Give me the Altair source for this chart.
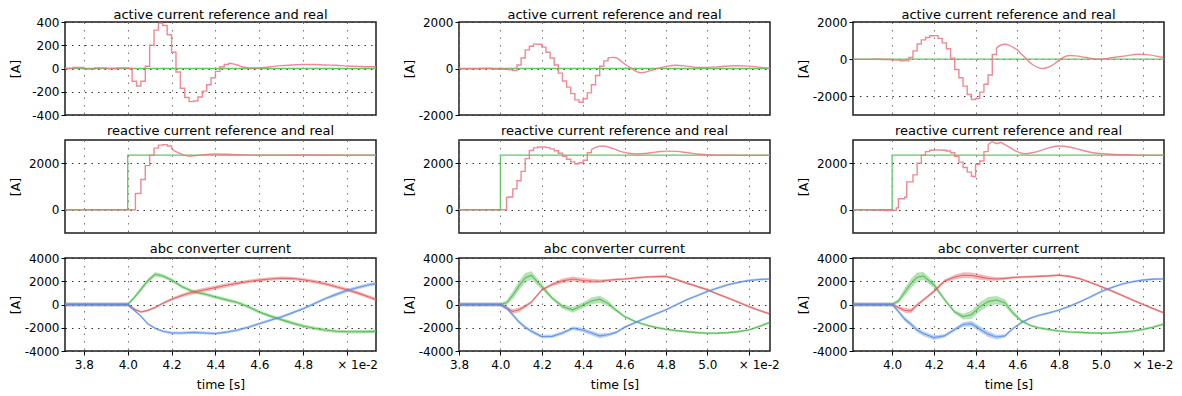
import altair as alt
import pandas as pd

FONT = "DejaVu Sans"
W, H = 311, 93

# ---------------- layout / axis content ----------------
X_DOMAINS = [[3.714, 5.132], [3.8, 5.303], [3.8125, 5.303]]
X_TICKS = [
    [3.8, 4.0, 4.2, 4.4, 4.6, 4.8, 5.0],
    [3.8, 4.0, 4.2, 4.4, 4.6, 4.8, 5.0, 5.2],
    [4.0, 4.2, 4.4, 4.6, 4.8, 5.0, 5.2],
]
X_MULT = [5.0, 5.2, 5.2]

TITLE_ACT = "active current reference and real"
TITLE_REACT = "reactive current reference and real"
TITLE_ABC = "abc converter current"
# title offsets per row (rows 1 and 3 have a tick label at the top edge that lifts the title)
TITLE_OFFSET = {"act": -6, "react": 2, "abc": -4}

ACT_YDOM = [[-400, 400], [-2000, 2000], [-3000, 2000]]
ACT_YTICKS = [[-400, -200, 0, 200, 400], [-2000, 0, 2000], [-2000, 0, 2000]]
REACT_YDOM = [-1000, 3000]
REACT_YTICKS = [0, 2000]
ABC_YDOM = [-4000, 4000]
ABC_YTICKS = [-4000, -2000, 0, 2000, 4000]

# ---------------- references (green) ----------------
act_ref_t = [3.70, 5.35]
act_ref_v = [0, 0]
react_ref_t = [3.70, 4.00, 5.35]
react_ref_v = [0, 2350, 2350]

# ---------------- real values (red, sampled) ----------------
# time after which the sampled staircase is no longer visible (drawn as a plain line)
STEP_END = {"act1": 4.46, "act2": 4.52, "act3": 4.50, "react1": 4.20, "react2": 4.44, "react3": 4.46}

act1_t = [3.70, 3.75, 3.80, 3.85, 3.90, 3.95, 4.00,
          4.02, 4.04, 4.06, 4.08, 4.10, 4.12, 4.14, 4.16, 4.18, 4.20, 4.22, 4.24, 4.26,
          4.28, 4.30, 4.32, 4.34, 4.36, 4.38, 4.40, 4.42, 4.44, 4.46, 4.48, 4.50, 4.52,
          4.55, 4.60, 4.65, 4.70, 4.75, 4.80, 4.85, 4.90, 4.95, 5.00, 5.05, 5.10, 5.15]
act1_v = [0, 8, -5, 5, 0, 5, 0,
          -110, -150, -110, 20, 200, 330, 390, 370, 290, 140, -30, -170, -250,
          -285, -280, -245, -195, -140, -80, -25, 15, 35, 45, 40, 30, 15,
          5, 5, 15, 25, 30, 35, 35, 30, 28, 22, 18, 15, 15]

react1_t = [3.70, 4.00, 4.02, 4.035, 4.06, 4.08, 4.10, 4.12, 4.14, 4.16, 4.18, 4.20, 4.22,
            4.24, 4.26, 4.28, 4.30, 4.33, 4.36, 4.40, 4.45, 4.50, 4.60, 4.70, 4.80, 4.90,
            5.00, 5.15]
react1_v = [0, 0, 0, 700, 1300, 1900, 2350, 2650, 2780, 2800, 2740, 2620, 2500,
            2410, 2340, 2310, 2320, 2350, 2380, 2400, 2390, 2370, 2350, 2350, 2360, 2355,
            2350, 2350]

act2_t = [3.70, 3.80, 3.90, 3.96, 4.00, 4.04, 4.06, 4.08, 4.10, 4.12, 4.14, 4.16, 4.18,
          4.20, 4.22, 4.24, 4.26, 4.28, 4.30, 4.32, 4.34, 4.36, 4.38, 4.40, 4.42, 4.44,
          4.46, 4.48, 4.50, 4.52, 4.54, 4.56, 4.58, 4.60, 4.62, 4.64, 4.66, 4.68, 4.70,
          4.72, 4.75, 4.80, 4.85, 4.90, 4.95, 5.00, 5.05, 5.10, 5.15, 5.20, 5.25, 5.30]
act2_v = [0, -10, 0, -20, -30, -60, -90, 150, 450, 800, 960, 1050, 1040,
          920, 700, 450, 150, -200, -540, -800, -1080, -1350, -1450, -1300, -1050, -700,
          -300, 100, 330, 450, 480, 460, 340, 200, 80, -40, -140, -180, -160,
          -100, -20, 90, 140, 100, 50, 50, 70, 110, 120, 100, 60, 10]

react2_t = [3.70, 4.02, 4.03, 4.04, 4.06, 4.08, 4.10, 4.12, 4.14, 4.16, 4.18, 4.20, 4.22,
            4.24, 4.26, 4.28, 4.30, 4.32, 4.34, 4.36, 4.38, 4.40, 4.42, 4.44, 4.46, 4.48,
            4.50, 4.52, 4.55, 4.58, 4.62, 4.66, 4.70, 4.75, 4.80, 4.85, 4.90, 4.95, 5.00,
            5.10, 5.30]
react2_v = [0, 0, 530, 550, 900, 1250, 1650, 2200, 2550, 2660, 2700, 2700, 2670,
            2620, 2540, 2430, 2300, 2170, 2060, 1980, 2020, 2130, 2450, 2590, 2680, 2730,
            2740, 2700, 2620, 2510, 2430, 2400, 2420, 2480, 2520, 2510, 2460, 2400, 2370,
            2345, 2340]

act3_t = [3.70, 3.80, 3.90, 3.95, 4.00, 4.04, 4.06, 4.08, 4.10, 4.12, 4.14, 4.16, 4.18,
          4.20, 4.22, 4.24, 4.26, 4.28, 4.30, 4.32, 4.34, 4.36, 4.38, 4.40, 4.42, 4.44,
          4.46, 4.48, 4.50, 4.52, 4.54, 4.56, 4.58, 4.60, 4.62, 4.64, 4.66, 4.68, 4.70,
          4.72, 4.74, 4.76, 4.78, 4.80, 4.82, 4.85, 4.88, 4.93, 4.99, 5.06, 5.12, 5.18,
          5.23, 5.30]
act3_v = [0, -10, 0, -20, -50, -80, -90, 90, 450, 820, 1040, 1170, 1260,
          1270, 1120, 880, 560, 60, -550, -1000, -1450, -1900, -2170, -2120, -1770, -1350,
          -850, 250, 600, 750, 800, 760, 640, 500, 270, 60, -180, -340, -450,
          -500, -460, -370, -230, -60, 100, 200, 180, 90, 0, 90, 180, 270,
          230, 90]

react3_t = [3.70, 3.90, 3.96, 4.00, 4.02, 4.03, 4.06, 4.07, 4.10, 4.12, 4.14, 4.16, 4.18,
            4.20, 4.22, 4.24, 4.26, 4.28, 4.30, 4.32, 4.34, 4.36, 4.38, 4.39, 4.40, 4.42,
            4.44, 4.46, 4.48, 4.50, 4.52, 4.54, 4.56, 4.58, 4.61, 4.64, 4.69, 4.75, 4.80,
            4.85, 4.91, 4.97, 5.05, 5.15, 5.30]
react3_v = [0, -10, -30, -20, 80, 470, 540, 1200, 1500, 2000, 2350, 2500, 2560,
            2570, 2570, 2560, 2530, 2450, 2300, 2050, 1820, 1620, 1440, 1420, 1960, 2100,
            2500, 2800, 2920, 2850, 2890, 2800, 2700, 2590, 2460, 2410, 2490, 2660, 2740,
            2700, 2560, 2440, 2390, 2360, 2340]

# ---------------- abc converter currents (centre values and ripple half-width) ----------------
abc1_t = [3.70, 3.80, 3.90, 4.00, 4.03, 4.06, 4.09, 4.125, 4.16, 4.20, 4.25, 4.30, 4.35, 4.40,
          4.45, 4.50, 4.55, 4.60, 4.65, 4.70, 4.75, 4.80, 4.85, 4.90, 4.95, 5.00, 5.05, 5.10, 5.15]
abc1_a = [0, 0, 0, 0, -400, -640, -520, -250, 100, 450, 800, 1070, 1270, 1450,
          1650, 1820, 1980, 2100, 2200, 2260, 2230, 2130, 1980, 1780, 1530, 1270, 980, 650, 300]
abc1_b = [0, 0, 0, 0, 600, 1300, 2000, 2600, 2450, 2100, 1500, 1100, 900, 650,
          400, 180, -200, -640, -1000, -1300, -1600, -1850, -2050, -2200, -2300, -2340, -2350, -2330, -2300]
abc1_c = [0, 0, 0, 0, -500, -1000, -1650, -2050, -2300, -2450, -2450, -2400, -2450, -2500,
          -2380, -2200, -1950, -1650, -1350, -1070, -720, -360, 70, 500, 870, 1210, 1470, 1700, 1850]
abc1_ra = [150, 150, 150, 150, 120, 100, 100, 100, 100, 120, 150, 180, 180, 180,
           180, 150, 150, 150, 150, 150, 150, 150, 150, 150, 150, 150, 150, 150, 150]
abc1_rb = [150, 150, 150, 150, 150, 200, 200, 200, 180, 150, 150, 150, 150, 150,
           150, 150, 150, 150, 150, 150, 150, 150, 150, 150, 150, 150, 150, 150, 150]
abc1_rc = [150, 150, 150, 150, 120, 100, 100, 100, 100, 120, 120, 120, 120, 120,
           120, 120, 120, 120, 120, 120, 120, 120, 120, 120, 150, 150, 150, 150, 150]

abc2_t = [3.80, 3.90, 4.00, 4.03, 4.06, 4.09, 4.12, 4.15, 4.20, 4.25, 4.30, 4.35, 4.40,
          4.44, 4.48, 4.52, 4.56, 4.60, 4.65, 4.70, 4.75, 4.80, 4.85, 4.90, 4.95, 5.00,
          5.05, 5.10, 5.15, 5.20, 5.25, 5.30]
abc2_a = [0, 0, 0, -300, -600, -460, -150, 200, 1260, 1720, 2030, 2190, 2070,
          2020, 2000, 2080, 2150, 2190, 2280, 2360, 2400, 2420, 2150, 1840, 1560, 1270,
          900, 550, 200, -170, -500, -800]
abc2_b = [0, 0, 0, 150, 800, 1600, 2300, 2500, 1550, 550, -170, -460, -50,
          300, 460, 100, -500, -1040, -1450, -1750, -1970, -2130, -2250, -2330, -2420, -2470,
          -2460, -2420, -2330, -2190, -1900, -1550]
abc2_c = [0, 0, 0, -300, -900, -1500, -1960, -2300, -2760, -2740, -2450, -2050, -2200,
          -2450, -2700, -2600, -2400, -1960, -1570, -1180, -820, -460, -30, 400, 760, 1120,
          1420, 1700, 1900, 2070, 2150, 2190]
abc2_ra = [150, 150, 150, 150, 200, 200, 150, 120, 100, 150, 200, 220, 220,
           200, 150, 120, 100, 100, 100, 100, 100, 100, 100, 100, 100, 100,
           100, 100, 100, 100, 100, 100]
abc2_rb = [150, 150, 150, 200, 350, 400, 400, 350, 250, 150, 200, 250, 250,
           300, 300, 250, 150, 120, 100, 100, 100, 100, 100, 100, 100, 100,
           100, 100, 100, 100, 100, 100]
abc2_rc = [150, 150, 150, 150, 150, 150, 150, 150, 150, 150, 150, 150, 180,
           200, 200, 150, 120, 100, 100, 100, 100, 100, 100, 100, 100, 100,
           100, 100, 100, 100, 100, 100]

abc3_t = [3.80, 3.90, 4.00, 4.03, 4.06, 4.09, 4.12, 4.15, 4.20, 4.25, 4.30, 4.34, 4.38,
          4.42, 4.46, 4.50, 4.54, 4.58, 4.62, 4.66, 4.70, 4.75, 4.80, 4.85, 4.90, 4.95,
          5.00, 5.05, 5.10, 5.15, 5.20, 5.25, 5.30]
abc3_a = [0, 0, 0, -250, -500, -550, -50, 400, 1120, 2000, 2360, 2520, 2500,
          2380, 2250, 2200, 2250, 2320, 2360, 2390, 2420, 2460, 2520, 2420, 2220, 1900,
          1550, 1180, 800, 400, 30, -350, -700]
abc3_b = [0, 0, 0, 300, 1050, 1800, 2350, 2450, 1700, 450, -650, -1040, -880,
          -200, 250, 380, 150, -750, -1400, -1780, -2000, -2150, -2280, -2360, -2400, -2440,
          -2460, -2440, -2380, -2300, -2150, -1950, -1700]
abc3_c = [0, 0, 0, -600, -1250, -1700, -2200, -2500, -2850, -2700, -2150, -1720, -1650,
          -2100, -2550, -2800, -2700, -2050, -1550, -1200, -950, -730, -480, -150, 230, 650,
          1100, 1450, 1750, 1950, 2100, 2180, 2200]
abc3_ra = [150, 150, 150, 150, 200, 200, 150, 120, 120, 150, 200, 250, 250,
           250, 200, 150, 120, 100, 100, 100, 100, 100, 100, 100, 100, 100,
           100, 100, 100, 100, 100, 100, 100]
abc3_rb = [150, 150, 150, 200, 350, 400, 400, 350, 250, 150, 150, 250, 350,
           400, 400, 350, 300, 200, 120, 100, 100, 100, 100, 100, 100, 100,
           100, 100, 100, 100, 100, 100, 100]
abc3_rc = [150, 150, 150, 150, 200, 200, 200, 200, 200, 150, 150, 200, 250,
           250, 250, 200, 150, 100, 100, 100, 100, 100, 100, 100, 100, 100,
           100, 100, 100, 100, 100, 100, 100]

# ---------------- colours ----------------
REF_GREEN = "#62c862"
REAL_RED = "#ec7480"
PH_RED = "#e25a5a"
PH_GREEN = "#4cba4c"
PH_BLUE = "#5a8ee2"


def panel_title(text, offset):
    return alt.TitleParams(text=text, frame="group", offset=offset, fontSize=13, font=FONT,
                           fontWeight="normal", color="#000", anchor="middle")


def x_enc(col, bottom):
    if bottom:
        m = X_MULT[col]
        test = f"abs(datum.value - {m}) < 0.01"
        axis = alt.Axis(
            values=X_TICKS[col], title="time [s]",
            labelExpr=f"{test} ? '× 1e-2' : format(datum.value, '.1f')",
            labelOffset={"condition": {"test": test, "value": 10}, "value": 0},
            labelFlush=False, labelOverlap=False, grid=True, gridColor="#777",
            gridDash=[1.5, 6], ticks=True, tickSize=4, labelPadding=4, titlePadding=8,
        )
    else:
        axis = alt.Axis(values=X_TICKS[col], title=None, labels=False, ticks=False,
                        grid=True, gridColor="#777", gridDash=[1.5, 6])
    return alt.X("t:Q", scale=alt.Scale(domain=X_DOMAINS[col], nice=False, zero=False), axis=axis)


def y_axis(ticks):
    return alt.Axis(values=ticks, title="[A]", labelExpr="'' + datum.value", grid=True,
                    gridColor="#333", gridDash=[1.5, 5])


def y_enc(field, dom, ticks):
    return alt.Y(f"{field}:Q", scale=alt.Scale(domain=dom, nice=False, zero=False), axis=y_axis(ticks))


def ref_real_panel(col, title, offset, ydom, yticks, ref_t, ref_v, real_t, real_v, step_end):
    ref_df = pd.DataFrame({"t": ref_t, "v": ref_v})
    pairs = list(zip(real_t, real_v))
    step_df = pd.DataFrame([p for p in pairs if p[0] <= step_end], columns=["t", "v"])
    smooth_df = pd.DataFrame([p for p in pairs if p[0] >= step_end], columns=["t", "v"])
    x = x_enc(col, False)
    y = y_enc("v", ydom, yticks)
    ref = alt.Chart(ref_df).mark_line(interpolate="step-after", color=REF_GREEN,
                                      strokeWidth=1.3, clip=True).encode(x=x, y=y)
    real_step = alt.Chart(step_df).mark_line(interpolate="step-after", color=REAL_RED,
                                             strokeWidth=1.4, opacity=0.85, clip=True).encode(x=x, y=y)
    real_smooth = alt.Chart(smooth_df).mark_line(interpolate="monotone", color=REAL_RED,
                                                 strokeWidth=1.4, opacity=0.85, clip=True).encode(x=x, y=y)
    return alt.layer(ref, real_step, real_smooth).properties(
        width=W, height=H, title=panel_title(title, offset))


def abc_panel(col, t, a, b, c, ra, rb, rc):
    layers = []
    for vals, rip, color in [(b, rb, PH_GREEN), (a, ra, PH_RED), (c, rc, PH_BLUE)]:
        rows = [(ti, v, v - r, v + r) for ti, v, r in zip(t, vals, rip)]
        df = pd.DataFrame(rows, columns=["t", "v", "lo", "hi"])
        band = alt.Chart(df).mark_area(color=color, opacity=0.42, clip=True).encode(
            x=x_enc(col, True), y=y_enc("lo", ABC_YDOM, ABC_YTICKS), y2=alt.Y2("hi:Q"))
        line = alt.Chart(df).mark_line(color=color, strokeWidth=1.1, opacity=0.85, clip=True).encode(
            x=x_enc(col, True), y=y_enc("v", ABC_YDOM, ABC_YTICKS))
        layers += [band, line]
    return alt.layer(*layers).properties(
        width=W, height=H, title=panel_title(TITLE_ABC, TITLE_OFFSET["abc"]))


OA, OR = TITLE_OFFSET["act"], TITLE_OFFSET["react"]
panels = [
    ref_real_panel(0, TITLE_ACT, OA, ACT_YDOM[0], ACT_YTICKS[0], act_ref_t, act_ref_v, act1_t, act1_v, STEP_END["act1"]),
    ref_real_panel(1, TITLE_ACT, OA, ACT_YDOM[1], ACT_YTICKS[1], act_ref_t, act_ref_v, act2_t, act2_v, STEP_END["act2"]),
    ref_real_panel(2, TITLE_ACT, OA, ACT_YDOM[2], ACT_YTICKS[2], act_ref_t, act_ref_v, act3_t, act3_v, STEP_END["act3"]),
    ref_real_panel(0, TITLE_REACT, OR, REACT_YDOM, REACT_YTICKS, react_ref_t, react_ref_v, react1_t, react1_v, STEP_END["react1"]),
    ref_real_panel(1, TITLE_REACT, OR, REACT_YDOM, REACT_YTICKS, react_ref_t, react_ref_v, react2_t, react2_v, STEP_END["react2"]),
    ref_real_panel(2, TITLE_REACT, OR, REACT_YDOM, REACT_YTICKS, react_ref_t, react_ref_v, react3_t, react3_v, STEP_END["react3"]),
    abc_panel(0, abc1_t, abc1_a, abc1_b, abc1_c, abc1_ra, abc1_rb, abc1_rc),
    abc_panel(1, abc2_t, abc2_a, abc2_b, abc2_c, abc2_ra, abc2_rb, abc2_rc),
    abc_panel(2, abc3_t, abc3_a, abc3_b, abc3_c, abc3_ra, abc3_rb, abc3_rc),
]

chart = alt.concat(
    *panels, columns=3, spacing={"row": 25, "column": 83}, bounds="flush",
).properties(
    padding={"left": 0, "top": 0, "right": 0, "bottom": 0},
).configure(
    font=FONT,
).configure_view(
    stroke="#1e1e1e", strokeWidth=1.5,
).configure_axis(
    labelFont=FONT, labelFontSize=12, labelColor="#000", titleFont=FONT, titleFontSize=12.5,
    titleFontWeight="normal", titleColor="#000", domain=False, tickColor="#000", tickSize=4,
    labelPadding=2,
).configure_axisY(
    minExtent=39, maxExtent=39, titlePadding=4,
)

chart.save("out.html", embed_options={"renderer": "svg", "actions": False})
